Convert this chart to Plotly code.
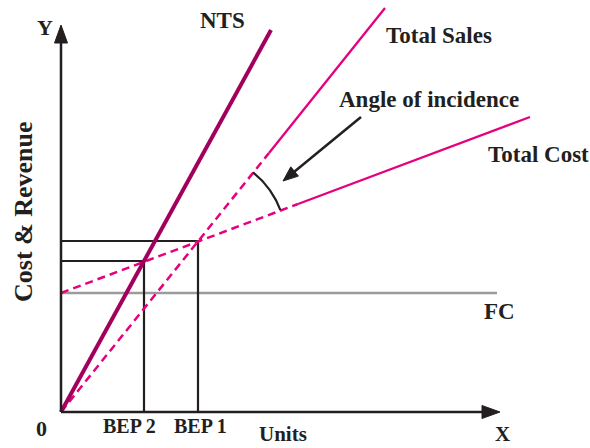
import numpy as np
import plotly.graph_objects as go

# ---- data (units on both axes) ----
fixed_cost = 119
fc_units = [0, 436]
sales_units = [0, 208, 324]        # dashed below break, solid above
sales_value = [0, 259, 404]
cost_units = [0, 237, 469]
cost_value = [119, 208, 295]
nts_units = [0, 210]
nts_value = [0, 382]
bep1 = (137, 171)
bep2 = (83, 151)
x_axis_end = 439
y_axis_end = 387

PINK = "#e5007e"
DARK = "#a3005c"
INK = "#231f20"
FONT = "Liberation Serif"

fig = go.Figure()

# fixed cost
fig.add_trace(go.Scatter(x=fc_units, y=[fixed_cost, fixed_cost], mode="lines",
                         line=dict(color="#9b9b9b", width=2.5), hoverinfo="skip"))
# BEP guide lines
for (bx, by) in (bep1, bep2):
    fig.add_trace(go.Scatter(x=[0, bx, bx], y=[by, by, 0], mode="lines",
                             line=dict(color=INK, width=2.2), hoverinfo="skip"))
# total sales
fig.add_trace(go.Scatter(x=sales_units[:2], y=sales_value[:2], mode="lines",
                         line=dict(color=PINK, width=2.5, dash="8px,5px"), hoverinfo="skip"))
fig.add_trace(go.Scatter(x=sales_units[1:], y=sales_value[1:], mode="lines",
                         line=dict(color=PINK, width=2.3), hoverinfo="skip"))
# total cost
fig.add_trace(go.Scatter(x=cost_units[:2], y=cost_value[:2], mode="lines",
                         line=dict(color=PINK, width=2.5, dash="8px,5px"), hoverinfo="skip"))
fig.add_trace(go.Scatter(x=cost_units[1:], y=cost_value[1:], mode="lines",
                         line=dict(color=PINK, width=2.3), hoverinfo="skip"))
# NTS
fig.add_trace(go.Scatter(x=nts_units, y=nts_value, mode="lines",
                         line=dict(color=DARK, width=4), hoverinfo="skip"))

# angle arc centred on BEP 1
a1 = np.arctan2(sales_value[2], sales_units[2])
a2 = np.arctan2(cost_value[2] - cost_value[0], cost_units[2])
t = np.linspace(a1, a2, 40)
r = 88
fig.add_trace(go.Scatter(x=bep1[0] + r * np.cos(t), y=bep1[1] + r * np.sin(t), mode="lines",
                         line=dict(color=INK, width=2.2), hoverinfo="skip"))


def arrow_head(tip, tail, length, half):
    tip = np.array(tip, float)
    tail = np.array(tail, float)
    d = (tip - tail) / np.linalg.norm(tip - tail)
    n = np.array([-d[1], d[0]])
    base = tip - d * length
    p1 = base + n * half
    p2 = base - n * half
    return f"M{tip[0]},{tip[1]} L{p1[0]},{p1[1]} L{p2[0]},{p2[1]} Z", base


shapes = []
# axes
for tip in [(0, y_axis_end), (x_axis_end, 0)]:
    path, base = arrow_head(tip, (0, 0), 18, 6.5)
    shapes.append(dict(type="line", x0=0, y0=0, x1=base[0], y1=base[1],
                       line=dict(color=INK, width=2.5)))
    shapes.append(dict(type="path", path=path, fillcolor=INK, line=dict(color=INK, width=1)))
# angle pointer
p_tail = (300, 295)
p_tip = (222, 231)
path, base = arrow_head(p_tip, p_tail, 15, 6)
shapes.append(dict(type="line", x0=p_tail[0], y0=p_tail[1], x1=base[0], y1=base[1],
                   line=dict(color=INK, width=2.5)))
shapes.append(dict(type="path", path=path, fillcolor=INK, line=dict(color=INK, width=1)))


def label(text, x, y, size=23, angle=0):
    return dict(text=text, x=x, y=y, xref="x", yref="y", showarrow=False,
                xanchor="center", yanchor="middle", textangle=angle, borderpad=0,
                font=dict(family=FONT, size=size, color=INK, weight="bold"))


annotations = [
    label("Y", -16, 385, 22),
    label("0", -20, -16, 22),
    label("X", 441, -22, 21),
    label("Units", 222, -22, 21),
    label("BEP 2", 68, -14, 20),
    label("BEP 1", 139, -14, 20),
    label("NTS", 161, 392),
    label("Total Sales", 378, 377),
    label("Angle of incidence", 368, 313),
    label("Total Cost", 477, 258),
    label("FC", 438, 101),
    label("Cost &amp; Revenue", -38, 200, 26, -90),
]

fig.update_layout(
    width=590, height=448, autosize=False,
    margin=dict(l=0, r=0, t=0, b=0),
    paper_bgcolor="white", plot_bgcolor="white",
    showlegend=False,
    xaxis=dict(range=[-61, 529], visible=False, fixedrange=True),
    yaxis=dict(range=[-36, 412], visible=False, fixedrange=True),
    shapes=shapes, annotations=annotations,
)

fig.write_html("out.html", config={"displayModeBar": False},
               post_script="document.body.style.margin='0';document.body.style.overflow='hidden';")
